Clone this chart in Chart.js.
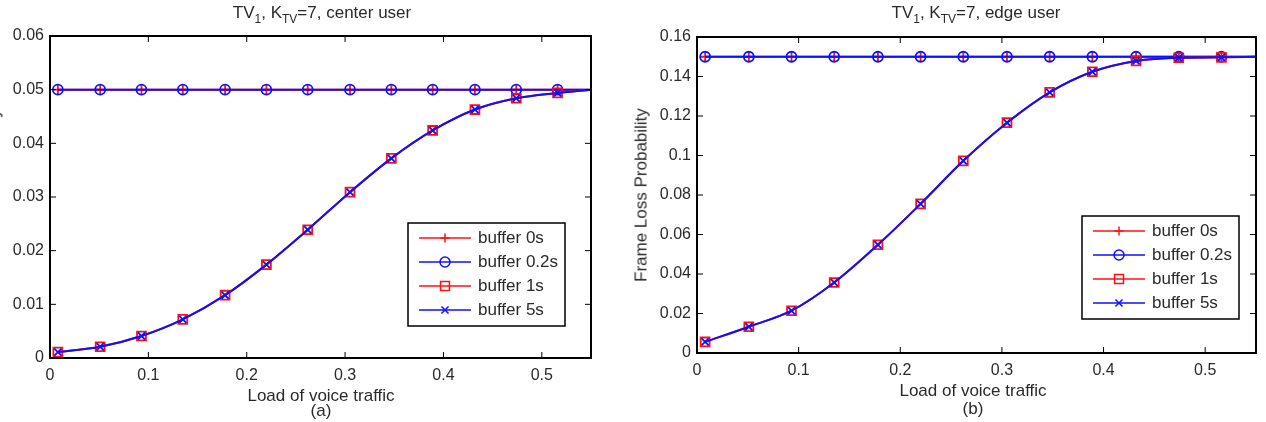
<!DOCTYPE html>
<html>
<head>
<meta charset="utf-8">
<script src="https://cdn.jsdelivr.net/npm/chart.js@4.4.1/dist/chart.umd.min.js"></script>
<style>
  body { margin: 0; background: #fff; }
  #wrap { position: relative; width: 1266px; height: 422px; overflow: hidden;
          font-family: "Liberation Sans", Arial, sans-serif; color: #2a2a2a; }
  .panel { position: absolute; top: 0; height: 422px; }
  .txt { position: absolute; white-space: nowrap; font-size: 17px; line-height: 17px;
         transform: translate(-50%, -50%); }
  .ylab { transform: translate(-50%, -50%) rotate(-90deg); }
  sub { font-size: 12px; vertical-align: -5px; line-height: 0; }
</style>
</head>
<body>
<div id="wrap">
  <div class="panel" style="left:0; width:620px;"><canvas id="centerChart"></canvas></div>
  <div class="panel" style="left:630px; width:636px;"><canvas id="edgeChart"></canvas></div>

  <div class="txt" style="left:322px; top:12px;">TV<sub>1</sub>, K<sub>TV</sub>=7, center user</div>
  <div class="txt" style="left:976px; top:12px;">TV<sub>1</sub>, K<sub>TV</sub>=7, edge user</div>

  <div class="txt" style="left:321px; top:395px;">Load of voice traffic</div>
  <div class="txt" style="left:321px; top:410px;">(a)</div>
  <div class="txt" style="left:973px; top:390px;">Load of voice traffic</div>
  <div class="txt" style="left:973px; top:408px;">(b)</div>

  <div class="txt ylab" style="left:-6px; top:196px;">Frame Loss Probability</div>
  <div class="txt ylab" style="left:641px; top:195px;">Frame Loss Probability</div>
</div>

<script>
// load of voice traffic (markers on the first 13 points, line runs on to the axis edge)
const loadX = [0.008, 0.051, 0.093, 0.135, 0.178, 0.220, 0.262, 0.305, 0.347, 0.389, 0.432, 0.474, 0.516, 0.55];
const markedPoints = 13;
const xTicks = [0, 0.1, 0.2, 0.3, 0.4, 0.5];

const seriesNames = ['buffer 0s', 'buffer 0.2s', 'buffer 1s', 'buffer 5s'];

// (a) center user
const centerTicks = [0, 0.01, 0.02, 0.03, 0.04, 0.05, 0.06];
const center0s  = [0.05, 0.05, 0.05, 0.05, 0.05, 0.05, 0.05, 0.05, 0.05, 0.05, 0.05, 0.05, 0.05, 0.05];
const center02s = [0.05, 0.05, 0.05, 0.05, 0.05, 0.05, 0.05, 0.05, 0.05, 0.05, 0.05, 0.05, 0.05, 0.05];
const center1s  = [0.0011, 0.0021, 0.0041, 0.0072, 0.0117, 0.0174, 0.0239, 0.0309, 0.0372, 0.0424, 0.0463, 0.0484, 0.0494, 0.05];
const center5s  = [0.0011, 0.0021, 0.0041, 0.0072, 0.0117, 0.0174, 0.0239, 0.0309, 0.0372, 0.0424, 0.0463, 0.0484, 0.0494, 0.05];

// (b) edge user
const edgeTicks = [0, 0.02, 0.04, 0.06, 0.08, 0.1, 0.12, 0.14, 0.16];
const edge0s  = [0.15, 0.15, 0.15, 0.15, 0.15, 0.15, 0.15, 0.15, 0.15, 0.15, 0.15, 0.15, 0.15, 0.15];
const edge02s = [0.15, 0.15, 0.15, 0.15, 0.15, 0.15, 0.15, 0.15, 0.15, 0.15, 0.15, 0.15, 0.15, 0.15];
const edge1s  = [0.0056, 0.0133, 0.0214, 0.0357, 0.0548, 0.0755, 0.0973, 0.1166, 0.132, 0.1424, 0.1479, 0.1495, 0.1497, 0.15];
const edge5s  = [0.0056, 0.0133, 0.0214, 0.0357, 0.0548, 0.0755, 0.0973, 0.1166, 0.132, 0.1424, 0.1479, 0.1495, 0.1497, 0.15];

const RED = '#ff1010', BLUE = '#1010ff';
const FONT = '"Liberation Sans", Arial, sans-serif';
const TEXT = '#2a2a2a';
const styles = [
  { color: RED,  marker: 'cross',    radius: 4.5, order: 4 },
  { color: BLUE, marker: 'circle',   radius: 5,   order: 3 },
  { color: RED,  marker: 'rect',     radius: 6.3, order: 2 },
  { color: BLUE, marker: 'crossRot', radius: 5,   order: 1 }
];

function buildDatasets(values) {
  return values.map((vals, i) => ({
    label: seriesNames[i],
    data: vals.map((v, j) => ({ x: loadX[j], y: v })),
    borderColor: styles[i].color,
    backgroundColor: 'rgba(0,0,0,0)',
    borderWidth: 2,
    pointStyle: styles[i].marker,
    pointRadius: ctx => ctx.dataIndex < markedPoints ? styles[i].radius : 0,
    pointBorderColor: styles[i].color,
    pointBackgroundColor: 'rgba(0,0,0,0)',
    pointBorderWidth: 1.8,
    cubicInterpolationMode: 'monotone',
    order: styles[i].order
  }));
}

// box round the plot with inward ticks on all four sides
const axesBox = {
  id: 'axesBox',
  afterDatasetsDraw(chart) {
    const { ctx, chartArea: a, scales } = chart;
    const t = 6;
    ctx.save();
    ctx.strokeStyle = '#000';
    ctx.lineWidth = 1;
    ctx.beginPath();
    scales.x.ticks.forEach(tk => {
      const px = scales.x.getPixelForValue(tk.value);
      ctx.moveTo(px, a.bottom); ctx.lineTo(px, a.bottom - t);
      ctx.moveTo(px, a.top); ctx.lineTo(px, a.top + t);
    });
    scales.y.ticks.forEach(tk => {
      const py = scales.y.getPixelForValue(tk.value);
      ctx.moveTo(a.left, py); ctx.lineTo(a.left + t, py);
      ctx.moveTo(a.right, py); ctx.lineTo(a.right - t, py);
    });
    ctx.stroke();
    ctx.lineWidth = 2;
    ctx.strokeRect(a.left, a.top, a.right - a.left, a.bottom - a.top);
    ctx.restore();
  }
};

// matlab style legend: line + marker + text inside a box
const legendBox = {
  id: 'legendBox',
  afterDraw(chart, args, opts) {
    const { ctx, chartArea: a } = chart;
    const w = 157, h = 103;
    const x = a.right - opts.right - w;
    const y = a.bottom - opts.bottom - h;
    ctx.save();
    ctx.fillStyle = '#fff';
    ctx.fillRect(x, y, w, h);
    ctx.strokeStyle = '#000';
    ctx.lineWidth = 1.5;
    ctx.strokeRect(x, y, w, h);
    ctx.font = '17px ' + FONT;
    ctx.textBaseline = 'middle';
    seriesNames.forEach((name, i) => {
      const cy = y + 15 + i * 24;
      ctx.strokeStyle = styles[i].color;
      ctx.fillStyle = 'rgba(0,0,0,0)';
      ctx.lineWidth = 1.5;
      ctx.beginPath();
      ctx.moveTo(x + 11, cy);
      ctx.lineTo(x + 63, cy);
      ctx.stroke();
      Chart.helpers.drawPoint(ctx, { pointStyle: styles[i].marker, rotation: 0, radius: styles[i].radius, borderWidth: 1.5 }, x + 37, cy);
      ctx.fillStyle = TEXT;
      ctx.fillText(name, x + 70, cy);
    });
    ctx.restore();
  }
};

function makeChart(id, values, yTicks, yMax, box) {
  new Chart(document.getElementById(id), {
    type: 'line',
    data: { datasets: buildDatasets(values) },
    options: {
      responsive: true,
      maintainAspectRatio: false,
      animation: false,
      events: [],
      layout: { padding: { top: box.top, right: box.right, left: 0, bottom: 0 } },
      plugins: {
        legend: { display: false },
        tooltip: { enabled: false },
        legendBox: box.legend
      },
      scales: {
        x: {
          type: 'linear', min: 0, max: 0.55,
          grid: { display: false, drawTicks: false },
          border: { display: false },
          afterBuildTicks: s => { s.ticks = xTicks.map(v => ({ value: v })); },
          afterFit: s => { s.height = box.xHeight; },
          ticks: { padding: 8, color: TEXT, font: { family: FONT, size: 16 }, callback: v => String(v), maxRotation: 0 }
        },
        y: {
          min: 0, max: yMax,
          grid: { display: false, drawTicks: false },
          border: { display: false },
          afterBuildTicks: s => { s.ticks = yTicks.map(v => ({ value: v })); },
          afterFit: s => { s.width = box.yWidth; },
          ticks: { padding: 6, color: TEXT, font: { family: FONT, size: 16 }, callback: v => String(v) }
        }
      }
    },
    plugins: [axesBox, legendBox]
  });
}

makeChart('centerChart', [center0s, center02s, center1s, center5s], centerTicks, 0.06,
  { top: 36, right: 29, xHeight: 64, yWidth: 50, legend: { right: 26, bottom: 32 } });
makeChart('edgeChart', [edge0s, edge02s, edge1s, edge5s], edgeTicks, 0.16,
  { top: 37, right: 10, xHeight: 69, yWidth: 67, legend: { right: 17, bottom: 34 } });
</script>
</body>
</html>
